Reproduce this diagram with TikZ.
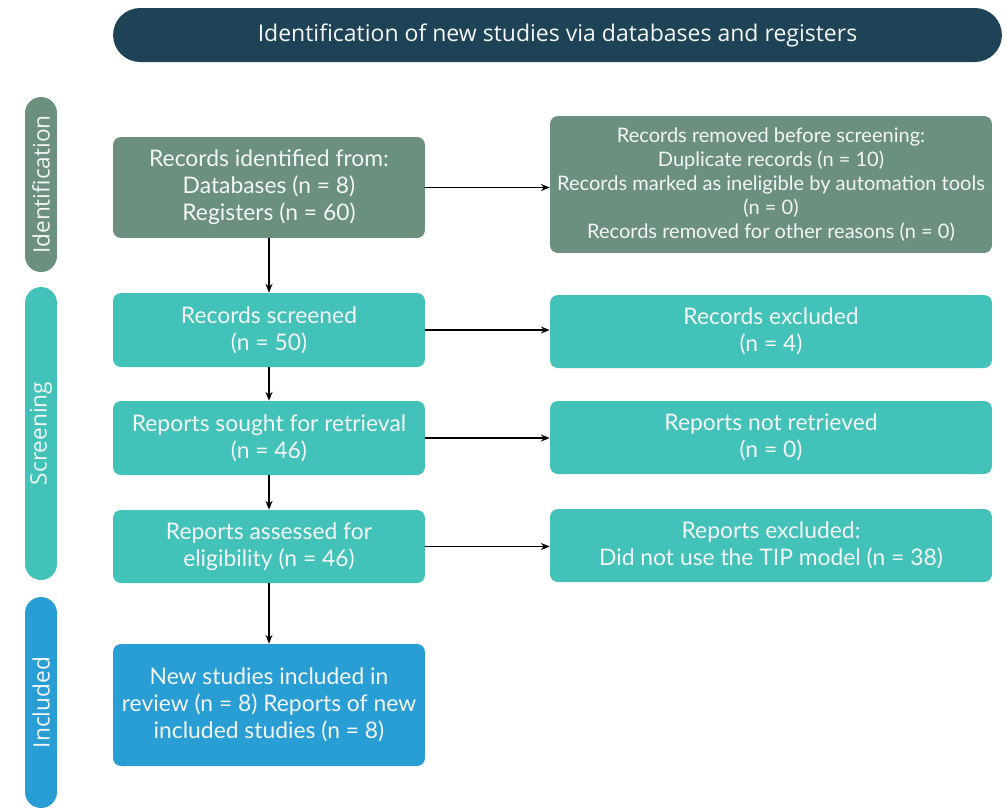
\documentclass[tikz,border=0pt]{standalone}
\usepackage{fontspec}
\setmainfont{Lato}
\newfontfamily\headfont{Open Sans}
\usetikzlibrary{arrows.meta}

\definecolor{idgreen}{RGB}{107,144,128}
\definecolor{scteal}{RGB}{66,194,184}
\definecolor{inblue}{RGB}{41,158,212}
\definecolor{headnavy}{RGB}{31,67,86}
\definecolor{boxtext}{RGB}{244,246,246}

\tikzset{
  box/.style={rectangle,rounded corners=4.5pt,align=center,text=boxtext,inner sep=2pt,
    font=\fontsize{13}{15.3}\selectfont},
  leftbox/.style={box,minimum width=6.24cm},
  rightbox/.style={box,minimum width=8.84cm,minimum height=1.46cm},
  phase/.style={rectangle,rounded corners=0.32cm,rotate=90,minimum height=0.64cm,
    text=boxtext,inner sep=0pt,font=\headfont\fontsize{12.9}{14}\selectfont},
  flow/.style={-{Stealth[length=5pt,width=4pt]},line width=0.8pt,black},
}

\begin{document}
\begin{tikzpicture}[x=0.02cm,y=-0.02cm,line cap=round,line join=round]
  \useasboundingbox (0,0) rectangle (1007,809);
  % heading
  \node[rectangle,rounded corners=0.54cm,fill=headnavy,text=boxtext,minimum width=17.78cm,
    minimum height=1.08cm,font=\headfont\fontsize{13.1}{15}\selectfont] (head) at (557.5,35)
    {Identification of new studies via databases and registers};
  % phases
  \node[phase,fill=idgreen,minimum width=3.5cm] (identification) at (41,184.5) {Identification};
  \node[phase,fill=scteal,minimum width=5.86cm] (screening) at (41,433.5) {Screening};
  \node[phase,fill=inblue,minimum width=4.22cm] (included) at (41,702.5) {Included};
  % left column
  \node[leftbox,fill=idgreen,minimum height=2.02cm] (identified) at (269,187.5)
    {Records identified from:\\Databases (n = 8)\\Registers (n = 60)};
  \node[leftbox,fill=scteal,minimum height=1.48cm] (screened) at (269,330)
    {Records screened\\(n = 50)};
  \node[leftbox,fill=scteal,minimum height=1.48cm] (sought) at (269,438)
    {Reports sought for retrieval\\(n = 46)};
  \node[leftbox,fill=scteal,minimum height=1.46cm] (assessed) at (269,546.5)
    {Reports assessed for\\eligibility (n = 46)};
  \node[leftbox,fill=inblue,minimum height=2.44cm] (studies) at (269,705)
    {New studies included in\\review (n = 8) Reports of new\\included studies (n = 8)};
  % right column
  \node[rightbox,fill=idgreen,minimum height=2.74cm,font=\fontsize{11.4}{13.6}\selectfont] (removed) at (771,184.5)
    {Records removed before screening:\\Duplicate records (n = 10)\\Records marked as ineligible by automation tools\\(n = 0)\\Records removed for other reasons (n = 0)};
  \node[rightbox,fill=scteal] (excluded) at (771,331.5) {Records excluded\\(n = 4)};
  \node[rightbox,fill=scteal] (notretrieved) at (771,437.5) {Reports not retrieved\\(n = 0)};
  \node[rightbox,fill=scteal] (reportsexcl) at (771,545.5) {Reports excluded:\\Did not use the TIP model (n = 38)};
  % arrows
  \draw[flow] (identified.east) -- (identified.east -| removed.west);
  \draw[flow] (screened.east) -- (screened.east -| excluded.west);
  \draw[flow] (sought.east) -- (sought.east -| notretrieved.west);
  \draw[flow] (assessed.east) -- (assessed.east -| reportsexcl.west);
  \draw[flow] (identified) -- (screened);
  \draw[flow] (screened) -- (sought);
  \draw[flow] (sought) -- (assessed);
  \draw[flow] (assessed) -- (studies);
\end{tikzpicture}
\end{document}
